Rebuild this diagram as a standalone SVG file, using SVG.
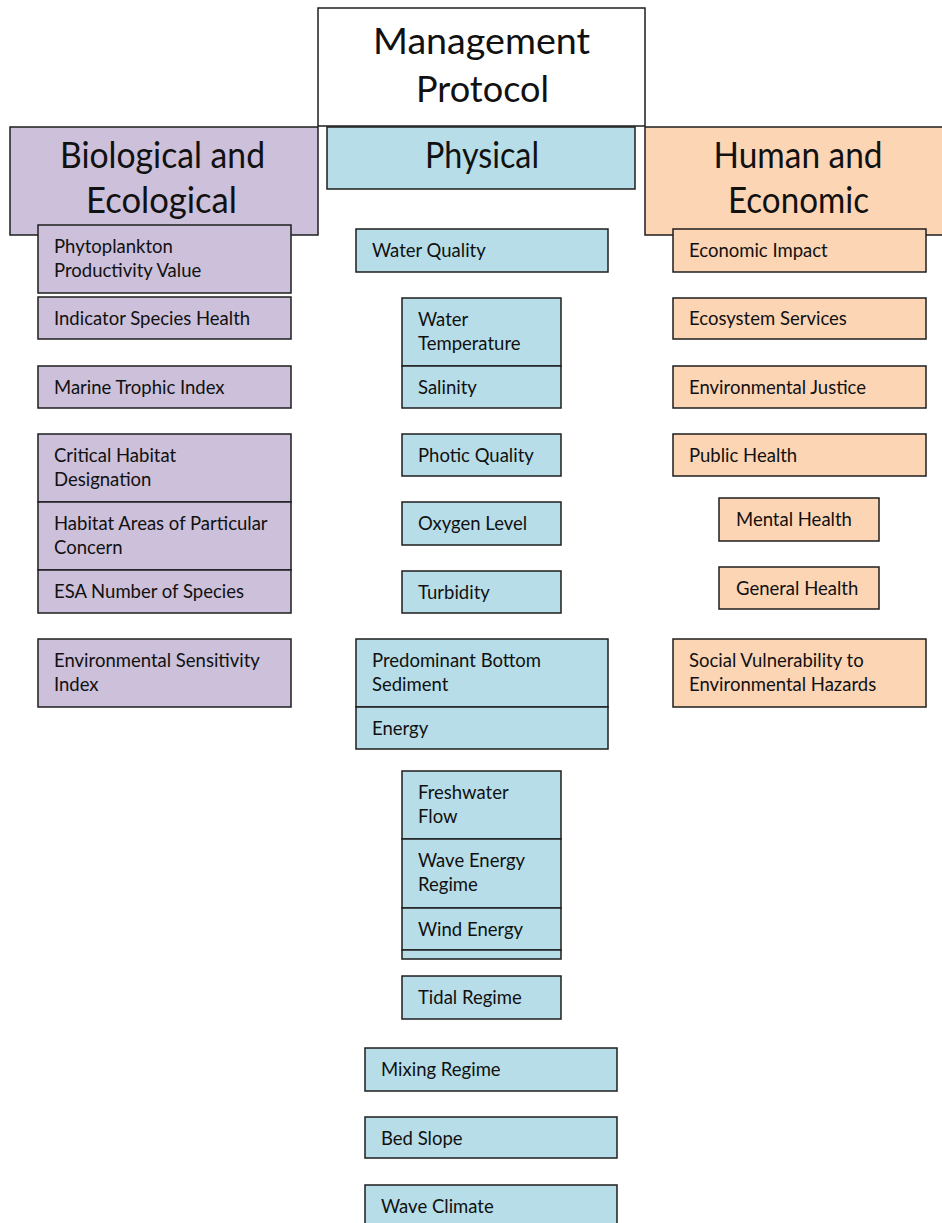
<svg xmlns="http://www.w3.org/2000/svg" width="942" height="1223" viewBox="0 0 942 1223">
<style>
.w,.p,.b,.o{stroke:#1e1e1e;stroke-width:1.5}
.w{fill:#ffffff}
.p{fill:#ccc0da}
.b{fill:#b7dee8}
.o{fill:#fcd5b5}
text{font-family:Lato,"Open Sans",sans-serif;fill:#111}
.h{font-size:36px;text-anchor:middle}
.t{font-size:18.5px}
</style>
<g id="mgmt"><rect class="w" x="318" y="8" width="327" height="118"/><text class="h" x="481.5" y="54" textLength="217" lengthAdjust="spacingAndGlyphs">Management</text><text class="h" x="482.5" y="102" textLength="133" lengthAdjust="spacingAndGlyphs">Protocol</text></g>
<g id="bio"><rect class="p" x="10" y="127" width="308" height="108"/><text class="h" x="162.5" y="168" textLength="205" lengthAdjust="spacingAndGlyphs">Biological and</text><text class="h" x="161.5" y="213" textLength="151" lengthAdjust="spacingAndGlyphs">Ecological</text></g>
<g id="phys"><rect class="b" x="327" y="127" width="308" height="62"/><text class="h" x="482" y="168" textLength="114" lengthAdjust="spacingAndGlyphs">Physical</text></g>
<g id="human"><rect class="o" x="645" y="127" width="306" height="108"/><text class="h" x="798" y="168" textLength="169" lengthAdjust="spacingAndGlyphs">Human and</text><text class="h" x="798.5" y="213" textLength="141" lengthAdjust="spacingAndGlyphs">Economic</text></g>

<g id="phyto"><rect class="p" x="38" y="225" width="253" height="68"/><text class="t" x="54" y="253">Phytoplankton</text><text class="t" x="54" y="277">Productivity Value</text></g>
<g id="indicator"><rect class="p" x="38" y="297" width="253" height="42"/><text class="t" x="54" y="325">Indicator Species Health</text></g>
<g id="trophic"><rect class="p" x="38" y="366" width="253" height="42"/><text class="t" x="54" y="394">Marine Trophic Index</text></g>
<g id="critical"><rect class="p" x="38" y="434" width="253" height="68"/><text class="t" x="54" y="462">Critical Habitat</text><text class="t" x="54" y="486">Designation</text></g>
<g id="hapc"><rect class="p" x="38" y="502" width="253" height="68"/><text class="t" x="54" y="530">Habitat Areas of Particular</text><text class="t" x="54" y="554">Concern</text></g>
<g id="esa"><rect class="p" x="38" y="570" width="253" height="43"/><text class="t" x="54" y="598">ESA Number of Species</text></g>
<g id="esi"><rect class="p" x="38" y="639" width="253" height="68"/><text class="t" x="54" y="667">Environmental Sensitivity</text><text class="t" x="54" y="691">Index</text></g>

<g id="wq"><rect class="b" x="356" y="229" width="252" height="43"/><text class="t" x="372" y="257">Water Quality</text></g>
<g id="wt"><rect class="b" x="402" y="298" width="159" height="68"/><text class="t" x="418" y="326">Water</text><text class="t" x="418" y="350">Temperature</text></g>
<g id="sal"><rect class="b" x="402" y="366" width="159" height="42"/><text class="t" x="418" y="394">Salinity</text></g>
<g id="photic"><rect class="b" x="402" y="434" width="159" height="42"/><text class="t" x="418" y="462">Photic Quality</text></g>
<g id="oxy"><rect class="b" x="402" y="502" width="159" height="43"/><text class="t" x="418" y="530">Oxygen Level</text></g>
<g id="turb"><rect class="b" x="402" y="571" width="159" height="42"/><text class="t" x="418" y="599">Turbidity</text></g>
<g id="sediment"><rect class="b" x="356" y="639" width="252" height="68"/><text class="t" x="372" y="667">Predominant Bottom</text><text class="t" x="372" y="691">Sediment</text></g>
<g id="energy"><rect class="b" x="356" y="707" width="252" height="42"/><text class="t" x="372" y="735">Energy</text></g>
<g id="fresh"><rect class="b" x="402" y="771" width="159" height="68"/><text class="t" x="418" y="799">Freshwater</text><text class="t" x="418" y="823">Flow</text></g>
<g id="wave"><rect class="b" x="402" y="839" width="159" height="69"/><text class="t" x="418" y="867">Wave Energy</text><text class="t" x="418" y="891">Regime</text></g>
<g id="wind"><rect class="b" x="402" y="908" width="159" height="42"/><text class="t" x="418" y="936">Wind Energy</text></g>
<g id="sliver"><rect class="b" x="402" y="950" width="159" height="9"/></g>
<g id="tidal"><rect class="b" x="402" y="976" width="159" height="43"/><text class="t" x="418" y="1004">Tidal Regime</text></g>
<g id="mixing"><rect class="b" x="365" y="1048" width="252" height="43"/><text class="t" x="381" y="1076">Mixing Regime</text></g>
<g id="bed"><rect class="b" x="365" y="1117" width="252" height="41"/><text class="t" x="381" y="1145">Bed Slope</text></g>
<g id="climate"><rect class="b" x="365" y="1185" width="252" height="43"/><text class="t" x="381" y="1213">Wave Climate</text></g>

<g id="econ"><rect class="o" x="673" y="229" width="253" height="43"/><text class="t" x="689" y="257">Economic Impact</text></g>
<g id="ecosys"><rect class="o" x="673" y="298" width="253" height="41"/><text class="t" x="689" y="325">Ecosystem Services</text></g>
<g id="ej"><rect class="o" x="673" y="366" width="253" height="42"/><text class="t" x="689" y="394">Environmental Justice</text></g>
<g id="ph"><rect class="o" x="673" y="434" width="253" height="42"/><text class="t" x="689" y="462">Public Health</text></g>
<g id="mental"><rect class="o" x="719" y="498" width="160" height="43"/><text class="t" x="736" y="526">Mental Health</text></g>
<g id="general"><rect class="o" x="719" y="567" width="160" height="42"/><text class="t" x="736" y="595">General Health</text></g>
<g id="social"><rect class="o" x="673" y="639" width="253" height="68"/><text class="t" x="689" y="667">Social Vulnerability to</text><text class="t" x="689" y="691">Environmental Hazards</text></g>
</svg>
